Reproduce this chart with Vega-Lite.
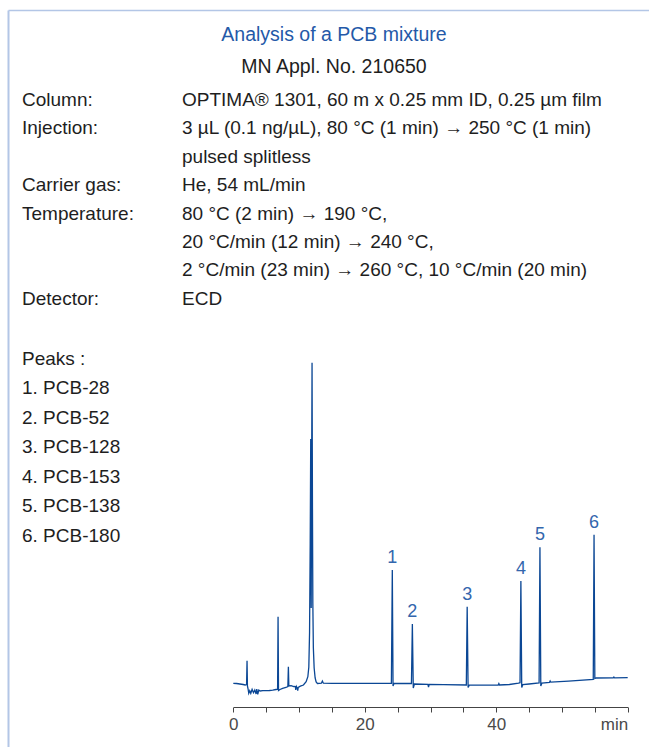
{
  "$schema": "https://vega.github.io/schema/vega-lite/v6.json",
  "width": 641,
  "height": 737,
  "autosize": {"type": "none"},
  "padding": {"left": 8, "top": 10, "right": 0, "bottom": 0},
  "background": "white",
  "config": {"view": {"stroke": null}, "text": {"font": "Liberation Sans"}},
  "resolve": {"scale": {"x": "independent", "y": "independent", "color": "independent"}},
  "layer": [
    {
      "data": {"values": [{"a": 0}]},
      "mark": {"type": "point", "opacity": 0},
      "encoding": {
        "x": {"datum": 0, "type": "quantitative", "scale": {"domain": [0, 1], "nice": false},
          "axis": {"orient": "top", "domainColor": "#b3c6e6", "domainWidth": 1.5, "ticks": false, "labels": false, "grid": false, "title": null}},
        "y": {"datum": 0, "type": "quantitative", "scale": {"domain": [0, 1], "nice": false},
          "axis": {"orient": "left", "domainColor": "#b3c6e6", "domainWidth": 2, "ticks": false, "labels": false, "grid": false, "title": null}}
      }
    },
    {
      "data": {"values": [
        {"line": 0, "kind": "title", "text": "Analysis of a PCB mixture"},
        {"line": 1, "kind": "sub", "text": "MN Appl. No. 210650"}
      ]},
      "mark": {"type": "text", "align": "center", "baseline": "alphabetic", "fontSize": 19.5, "dx": 5.5},
      "encoding": {
        "y": {"field": "line", "type": "quantitative", "scale": {"domain": [0, 1], "range": [30.7, 63], "nice": false, "zero": false}, "axis": null},
        "text": {"field": "text"},
        "color": {"field": "kind", "type": "nominal", "scale": {"domain": ["title", "sub"], "range": ["#2459a8", "#1e1e1e"]}, "legend": null}
      }
    },
    {
      "data": {"values": [
        {"row": 0, "col": "label", "text": "Column:"},
        {"row": 0, "col": "value", "text": "OPTIMA® 1301, 60 m x 0.25 mm ID, 0.25 µm film"},
        {"row": 1, "col": "label", "text": "Injection:"},
        {"row": 1, "col": "value", "text": "3 µL (0.1 ng/µL), 80 °C (1 min) → 250 °C (1 min)"},
        {"row": 2, "col": "value", "text": "pulsed splitless"},
        {"row": 3, "col": "label", "text": "Carrier gas:"},
        {"row": 3, "col": "value", "text": "He, 54 mL/min"},
        {"row": 4, "col": "label", "text": "Temperature:"},
        {"row": 4, "col": "value", "text": "80 °C (2 min) → 190 °C,"},
        {"row": 5, "col": "value", "text": "20 °C/min (12 min) → 240 °C,"},
        {"row": 6, "col": "value", "text": "2 °C/min (23 min) → 260 °C, 10 °C/min (20 min)"},
        {"row": 7, "col": "label", "text": "Detector:"},
        {"row": 7, "col": "value", "text": "ECD"}
      ]},
      "mark": {"type": "text", "align": "left", "baseline": "alphabetic", "fontSize": 19, "color": "#1e1e1e"},
      "encoding": {
        "x": {"field": "col", "type": "nominal", "scale": {"type": "point", "domain": ["label", "value"], "range": [14, 174], "padding": 0}, "axis": null},
        "y": {"field": "row", "type": "quantitative", "scale": {"domain": [0, 7], "range": [96, 294.7], "nice": false, "zero": false}, "axis": null},
        "text": {"field": "text"}
      }
    },
    {
      "data": {"values": [
        {"line": 0, "text": "Peaks :"},
        {"line": 1, "text": "1. PCB-28"},
        {"line": 2, "text": "2. PCB-52"},
        {"line": 3, "text": "3. PCB-128"},
        {"line": 4, "text": "4. PCB-153"},
        {"line": 5, "text": "5. PCB-138"},
        {"line": 6, "text": "6. PCB-180"}
      ]},
      "mark": {"type": "text", "align": "left", "baseline": "alphabetic", "fontSize": 19, "color": "#1e1e1e"},
      "encoding": {
        "x": {"datum": 0, "type": "quantitative", "scale": {"domain": [0, 1], "range": [14, 600], "nice": false}, "axis": null},
        "y": {"field": "line", "type": "quantitative", "scale": {"domain": [0, 6], "range": [354.5, 531.5], "nice": false, "zero": false}, "axis": null},
        "text": {"field": "text"}
      }
    },
    {
      "data": {"values": [
        {"t": 0, "v": 19.7}, {"t": 0.5, "v": 19.5}, {"t": 1, "v": 19}, {"t": 1.5, "v": 18.5}, {"t": 1.8, "v": 18},
        {"t": 2.02, "v": 18.5}, {"t": 2.09, "v": 42.3}, {"t": 2.15, "v": 17}, {"t": 2.25, "v": 14}, {"t": 2.35, "v": 9.7},
        {"t": 2.5, "v": 12.3}, {"t": 2.66, "v": 9.7}, {"t": 2.86, "v": 13.7}, {"t": 3.07, "v": 10.3}, {"t": 3.27, "v": 13},
        {"t": 3.47, "v": 9}, {"t": 3.57, "v": 14}, {"t": 3.72, "v": 8.7}, {"t": 3.88, "v": 13}, {"t": 4.08, "v": 12},
        {"t": 4.5, "v": 12.3}, {"t": 5, "v": 12.3}, {"t": 5.5, "v": 12.5}, {"t": 6, "v": 12.8}, {"t": 6.5, "v": 13.5},
        {"t": 6.74, "v": 13.7}, {"t": 6.81, "v": 86.3}, {"t": 6.88, "v": 12.5}, {"t": 7.1, "v": 13.5}, {"t": 7.5, "v": 14.7},
        {"t": 8, "v": 15.5}, {"t": 8.3, "v": 16.5}, {"t": 8.38, "v": 36.3}, {"t": 8.45, "v": 17}, {"t": 8.8, "v": 17.3},
        {"t": 9.2, "v": 16.5}, {"t": 9.45, "v": 16.3}, {"t": 9.5, "v": 13}, {"t": 9.6, "v": 16.5}, {"t": 9.75, "v": 14.5},
        {"t": 9.8, "v": 12.3}, {"t": 9.88, "v": 15.7}, {"t": 10.2, "v": 16.8}, {"t": 10.67, "v": 18}, {"t": 11.08, "v": 21.3},
        {"t": 11.34, "v": 26.3}, {"t": 11.49, "v": 36}, {"t": 11.6, "v": 70}, {"t": 11.7, "v": 160}, {"t": 11.78, "v": 264},
        {"t": 11.85, "v": 95}, {"t": 11.93, "v": 250}, {"t": 11.98, "v": 340.3}, {"t": 12.04, "v": 200}, {"t": 12.1, "v": 100},
        {"t": 12.18, "v": 55}, {"t": 12.3, "v": 35}, {"t": 12.45, "v": 25}, {"t": 12.6, "v": 21}, {"t": 12.8, "v": 19.5},
        {"t": 13.4, "v": 19.8}, {"t": 13.55, "v": 22}, {"t": 13.7, "v": 19.8}, {"t": 15, "v": 19.7}, {"t": 20, "v": 19.7},
        {"t": 24.05, "v": 19.7}, {"t": 24.19, "v": 133}, {"t": 24.3, "v": 17}, {"t": 24.45, "v": 19.5}, {"t": 26, "v": 19.5},
        {"t": 27.1, "v": 19.5}, {"t": 27.24, "v": 79}, {"t": 27.38, "v": 15}, {"t": 27.55, "v": 19}, {"t": 29.6, "v": 18.7},
        {"t": 29.7, "v": 16}, {"t": 29.8, "v": 18.6}, {"t": 32, "v": 18.3}, {"t": 35.45, "v": 18}, {"t": 35.58, "v": 96.3},
        {"t": 35.72, "v": 15.5}, {"t": 35.9, "v": 17.8}, {"t": 38, "v": 17.8}, {"t": 40.3, "v": 18}, {"t": 40.4, "v": 19.5},
        {"t": 40.5, "v": 18}, {"t": 42, "v": 18.5}, {"t": 43.4, "v": 19.8}, {"t": 43.62, "v": 20.3}, {"t": 43.75, "v": 122},
        {"t": 43.88, "v": 15.5}, {"t": 44.05, "v": 18.5}, {"t": 45, "v": 19}, {"t": 46.52, "v": 20}, {"t": 46.65, "v": 155.7},
        {"t": 46.78, "v": 17}, {"t": 46.95, "v": 20}, {"t": 48.1, "v": 20.5}, {"t": 48.2, "v": 22}, {"t": 48.3, "v": 20.8},
        {"t": 51, "v": 21.8}, {"t": 54.76, "v": 23.5}, {"t": 54.88, "v": 168.3}, {"t": 55.0, "v": 24.5}, {"t": 55.2, "v": 25},
        {"t": 57.8, "v": 25.2}, {"t": 57.9, "v": 26}, {"t": 58, "v": 25.2}, {"t": 60, "v": 25.3}
      ]},
      "mark": {"type": "line", "color": "#0b4795", "strokeWidth": 1.3},
      "encoding": {
        "x": {"field": "t", "type": "quantitative",
          "scale": {"domain": [0, 60], "range": [225.3, 619.7], "nice": false, "zero": false},
          "axis": {"orient": "bottom", "offset": -40, "values": [0, 5, 10, 15, 20, 25, 30, 35, 40, 45, 50, 55, 60],
            "labelExpr": "datum.value == 60 ? 'min' : (datum.value % 20 == 0 ? datum.label : '')",
            "labelAlign": {"expr": "datum.value == 60 ? 'right' : 'center'"},
            "labelFlush": false, "labelOverlap": false, "grid": false, "title": null,
            "domainColor": "#444", "tickColor": "#444", "tickSize": 5, "domainWidth": 1, "tickWidth": 1,
            "labelFontSize": 17, "labelFont": "Liberation Sans", "labelColor": "#4a4a4a", "labelPadding": 4}},
        "y": {"field": "v", "type": "quantitative", "scale": {"domain": [0, 350], "range": [693, 343], "nice": false, "zero": false}, "axis": null}
      }
    },
    {
      "data": {"values": [
        {"t": 24.19, "v": 133, "label": "1"},
        {"t": 27.24, "v": 79, "label": "2"},
        {"t": 35.58, "v": 96.3, "label": "3"},
        {"t": 43.75, "v": 122, "label": "4"},
        {"t": 46.65, "v": 155.7, "label": "5"},
        {"t": 54.88, "v": 168.3, "label": "6"}
      ]},
      "mark": {"type": "text", "align": "center", "baseline": "alphabetic", "dy": -7, "fontSize": 18, "color": "#3366ad"},
      "encoding": {
        "x": {"field": "t", "type": "quantitative", "scale": {"domain": [0, 60], "range": [225.3, 619.7], "nice": false, "zero": false}, "axis": null},
        "y": {"field": "v", "type": "quantitative", "scale": {"domain": [0, 350], "range": [693, 343], "nice": false, "zero": false}, "axis": null},
        "text": {"field": "label"}
      }
    }
  ]
}
